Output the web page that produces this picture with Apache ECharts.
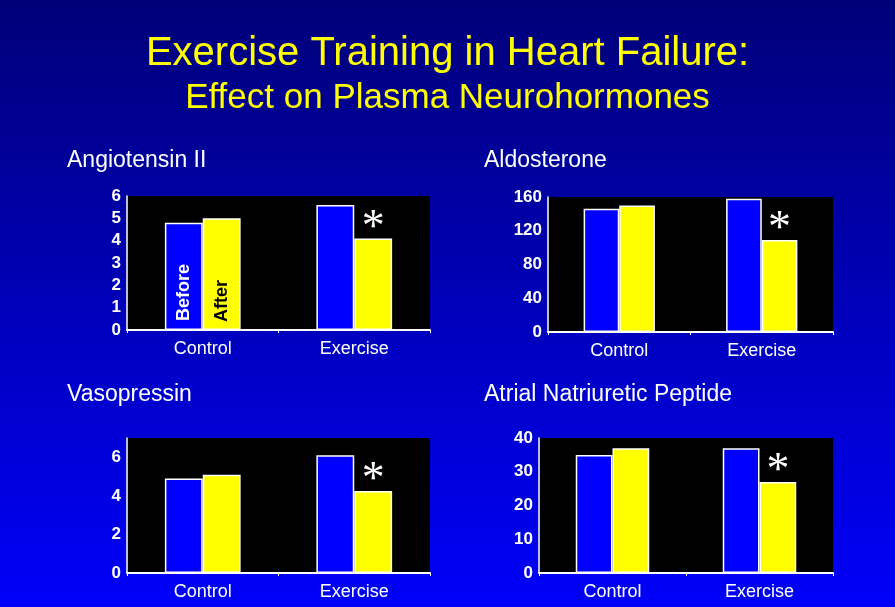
<!DOCTYPE html>
<html>
<head>
<meta charset="utf-8">
<style>
  html, body { margin: 0; padding: 0; }
  #chart { width: 895px; height: 607px; }
</style>
<script src="https://cdn.jsdelivr.net/npm/echarts@6/dist/echarts.min.js"></script>
</head>
<body>
<div id="chart"></div>
<script>
// ---- Data ----
const categories = ['Control', 'Exercise'];
const panelTitles = ['Angiotensin II', 'Aldosterone', 'Vasopressin', 'Atrial Natriuretic Peptide'];
const angBefore = [4.8, 5.6];
const angAfter = [5.0, 4.1];
const aldoBefore = [146, 158];
const aldoAfter = [150, 109];
const vasoBefore = [4.9, 6.1];
const vasoAfter = [5.1, 4.25];
const anpBefore = [35, 37];
const anpAfter = [37, 27];
const significant = [false, true];   // asterisk on "After" bar
const yMax = [6, 160, 7, 40];
const yInterval = [1, 40, 2, 10];

const beforeSets = [angBefore, aldoBefore, vasoBefore, anpBefore];
const afterSets = [angAfter, aldoAfter, vasoAfter, anpAfter];

const FONT = 'Liberation Sans, Arial, Helvetica, sans-serif';

const grids = [
  { left: 127, right: 465, top: 196, bottom: 277 },
  { left: 548, right: 62, top: 197, bottom: 275 },
  { left: 127, right: 465, top: 438, bottom: 34 },
  { left: 539, right: 62, top: 438, bottom: 34 }
];

const titlePos = [
  { left: 67, top: 149 },
  { left: 484, top: 149 },
  { left: 67, top: 383 },
  { left: 484, top: 383 }
];

const option = {
  animation: false,
  backgroundColor: {
    type: 'linear', x: 0, y: 0, x2: 0, y2: 1,
    colorStops: [{ offset: 0, color: '#000078' }, { offset: 1, color: '#0000fa' }]
  },
  title: [
    {
      text: 'Exercise Training in Heart Failure:',
      left: 'center', top: 29,
      textStyle: { color: '#ffff00', fontSize: 40, fontWeight: 'normal', fontFamily: FONT }
    },
    {
      text: 'Effect on Plasma Neurohormones',
      left: 'center', top: 76,
      textStyle: { color: '#ffff00', fontSize: 35, fontWeight: 'normal', fontFamily: FONT }
    }
  ].concat(panelTitles.map((t, i) => ({
    text: t, left: titlePos[i].left, top: titlePos[i].top, padding: 0,
    textStyle: { color: '#ffffff', fontSize: 23, fontWeight: 'normal', fontFamily: FONT }
  }))),
  grid: grids.map(g => Object.assign({ show: true, backgroundColor: '#000000', borderWidth: 0 }, g)),
  xAxis: grids.map((g, i) => ({
    type: 'category', gridIndex: i, data: categories,
    axisLine: { lineStyle: { color: '#ffffff', width: 2 } },
    axisTick: { show: true, length: 3, lineStyle: { color: '#ffffff' } },
    axisLabel: { color: '#ffffff', fontSize: 18, fontFamily: FONT, margin: 10 }
  })),
  yAxis: grids.map((g, i) => ({
    type: 'value', gridIndex: i, min: 0, max: yMax[i], interval: yInterval[i],
    splitLine: { show: false },
    axisLine: { show: true, lineStyle: { color: '#ffffff', width: 1.5 } },
    axisTick: { show: false },
    axisLabel: { color: '#ffffff', fontSize: 17, fontWeight: 'bold', fontFamily: FONT, margin: 6,
      showMaxLabel: i === 2 ? false : true }
  })),
  series: []
};

for (let i = 0; i < 4; i++) {
  option.series.push({
    type: 'bar', name: 'Before', xAxisIndex: i, yAxisIndex: i,
    barWidth: '25%', barGap: '0%',
    itemStyle: { color: '#0000ff', borderColor: '#ffffff', borderWidth: 1.5 },
    label: i === 0 ? {
      show: true, formatter: (p) => p.dataIndex === 0 ? 'Before' : '',
      position: 'insideBottom', rotate: 90, align: 'left', verticalAlign: 'middle',
      distance: 9, color: '#ffffff', fontSize: 18, fontWeight: 'bold', fontFamily: FONT
    } : { show: false },
    data: beforeSets[i]
  });
  option.series.push({
    type: 'bar', name: 'After', xAxisIndex: i, yAxisIndex: i,
    barWidth: '25%', barGap: '0%',
    itemStyle: { color: '#ffff00', borderColor: '#ffffff', borderWidth: 1.5 },
    data: afterSets[i].map((v, k) => {
      const item = { value: v };
      if (significant[k]) {
        item.label = {
          show: true, formatter: '*', position: 'top', distance: 0, offset: [0, 13],
          color: '#ffffff', fontSize: 46, fontFamily: 'Liberation Serif, Times New Roman, serif'
        };
      } else if (i === 0) {
        item.label = {
          show: true, formatter: 'After',
          position: 'insideBottom', rotate: 90, align: 'left', verticalAlign: 'middle',
          distance: 8, color: '#000000', fontSize: 18, fontWeight: 'bold', fontFamily: FONT
        };
      }
      return item;
    })
  });
}

const chart = echarts.init(document.getElementById('chart'), null, { renderer: 'canvas' });
chart.setOption(option);
</script>
</body>
</html>
